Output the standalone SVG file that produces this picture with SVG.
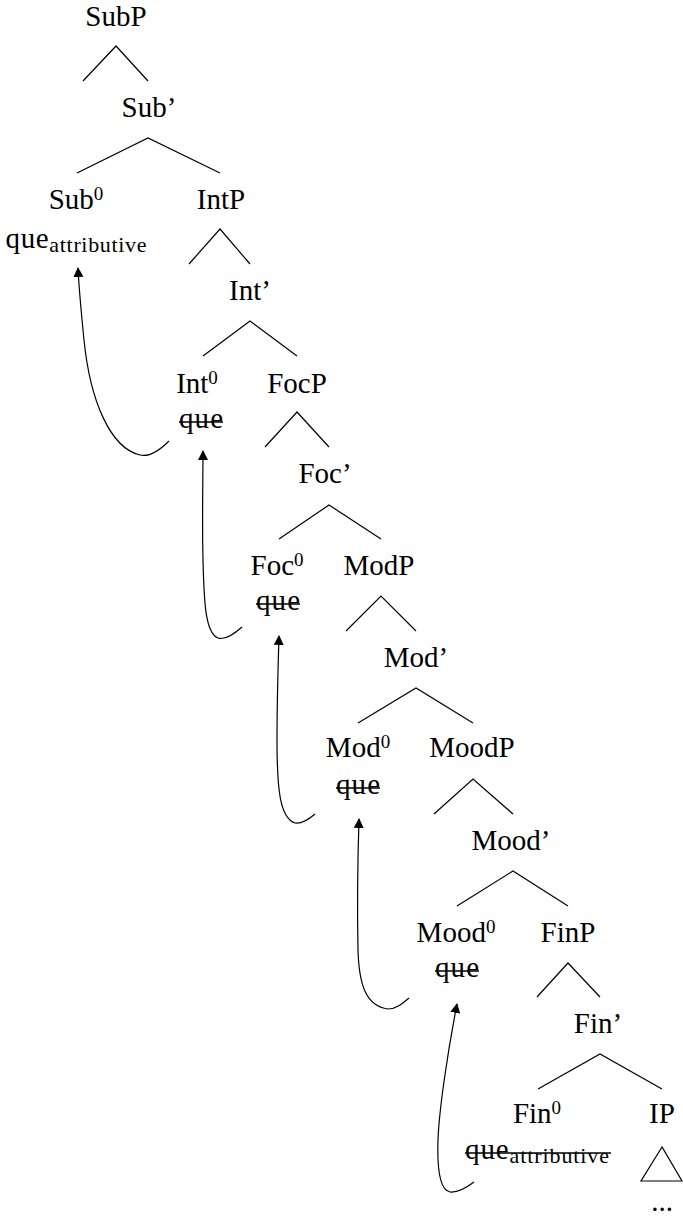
<svg xmlns="http://www.w3.org/2000/svg" width="683" height="1217" viewBox="0 0 683 1217">
<style>
text{font-family:"Liberation Serif","Times New Roman",serif;font-size:29px;fill:#000;text-anchor:middle}
.sup{font-size:19px}
.sub{font-size:22px}
.st{stroke:#000;stroke-width:1.3}
.br polyline,.br polygon{fill:none;stroke:#000;stroke-width:1.2}
.mv{stroke:#000;stroke-width:1.2;fill:none;marker-end:url(#ah)}
</style>
<defs>
<marker id="ah" markerUnits="userSpaceOnUse" markerWidth="12" markerHeight="12" refX="9" refY="5" orient="auto">
<path d="M0,0 L10,5 L0,10 z" fill="#000"/>
</marker>
</defs>
<g id="SubP"><text x="116" y="26">SubP</text></g>
<g id="SubBar"><text x="149" y="117">Sub’</text></g>
<g id="Sub0"><text x="76" y="209">Sub<tspan class="sup" dy="-9">0</tspan></text>
<text x="76" y="248" textLength="141">que<tspan class="sub" dy="4">attributive</tspan></text></g>
<g id="IntP"><text x="221" y="209">IntP</text></g>
<g id="IntBar"><text x="250" y="300">Int’</text></g>
<g id="Int0"><text x="197" y="393">Int<tspan class="sup" dy="-9">0</tspan></text>
<text x="201" y="428" textLength="44">que</text><line class="st" x1="179" y1="422" x2="223" y2="422"/></g>
<g id="FocP"><text x="297" y="393">FocP</text></g>
<g id="FocBar"><text x="325" y="483">Foc’</text></g>
<g id="Foc0"><text x="277" y="575">Foc<tspan class="sup" dy="-9">0</tspan></text>
<text x="278" y="610" textLength="44">que</text><line class="st" x1="256" y1="604" x2="300" y2="604"/></g>
<g id="ModP"><text x="379" y="575">ModP</text></g>
<g id="ModBar"><text x="416" y="667">Mod’</text></g>
<g id="Mod0"><text x="358" y="757">Mod<tspan class="sup" dy="-9">0</tspan></text>
<text x="358" y="794" textLength="44">que</text><line class="st" x1="336" y1="788" x2="380" y2="788"/></g>
<g id="MoodP"><text x="472" y="757">MoodP</text></g>
<g id="MoodBar"><text x="511" y="850">Mood’</text></g>
<g id="Mood0"><text x="456" y="942">Mood<tspan class="sup" dy="-9">0</tspan></text>
<text x="457" y="977" textLength="44">que</text><line class="st" x1="435" y1="971" x2="479" y2="971"/></g>
<g id="FinP"><text x="568" y="942">FinP</text></g>
<g id="FinBar"><text x="598" y="1033">Fin’</text></g>
<g id="Fin0"><text x="537" y="1123">Fin<tspan class="sup" dy="-9">0</tspan></text>
<text x="537" y="1159" textLength="144">que<tspan class="sub" dy="4">attributive</tspan></text><line class="st" x1="465" y1="1153" x2="611" y2="1153"/></g>
<g id="IP"><text x="662" y="1123">IP</text></g>
<g id="IPdots"><text x="662" y="1211">...</text></g>
<g id="branches" class="br">
<polyline points="83,81 116,46 148,81"/>
<polyline points="77,173 148,138 220,173"/>
<polyline points="189,264 220,229 250,264"/>
<polyline points="203,356 250,321 297,356"/>
<polyline points="265,447 297,412 329,447"/>
<polyline points="279,539 329,505 381,539"/>
<polyline points="346,631 381,596 416,631"/>
<polyline points="358,723 416,688 473,723"/>
<polyline points="434,814 473,779 513,814"/>
<polyline points="457,906 513,871 568,906"/>
<polyline points="537,997 568,963 600,997"/>
<polyline points="538,1089 600,1054 662,1089"/>
<polygon points="662,1147 641,1181 682,1181"/>
</g>
<g id="movement">
<path class="mv" d="M169,441 C158,452 148,457 140,455 C110,448 90,400 84,340 C81,310 79,290 78,268"/>
<path class="mv" d="M242,627 C232,636 224,640 218,638 C205,633 204,600 203,560 C202,520 203,480 203,451"/>
<path class="mv" d="M315,814 C308,820 301,824 295,823 C280,818 277,790 277,740 C277,700 278,670 279,636"/>
<path class="mv" d="M409,998 C402,1004 396,1009 388,1009 C366,1006 359,985 358,950 C357,900 358,850 359,819"/>
<path class="mv" d="M474,1182 C466,1188 458,1193 450,1192 C440,1190 437,1170 438,1140 C439,1110 448,1050 457,1004"/>
</g>
</svg>
